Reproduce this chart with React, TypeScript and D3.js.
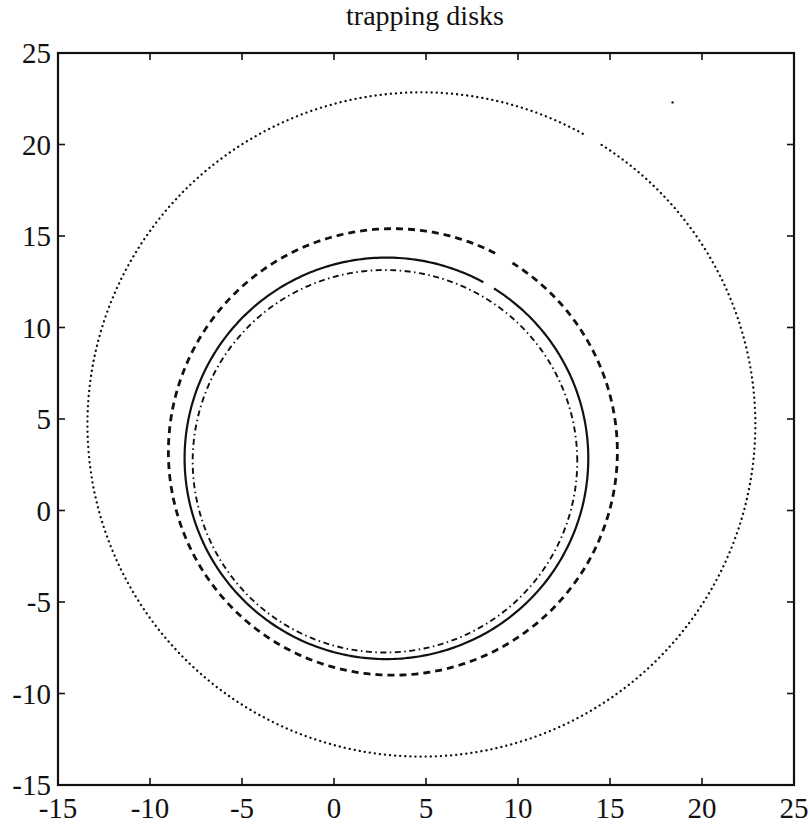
import React from "react";
import * as d3 from "d3";

const xTicks = [-15, -10, -5, 0, 5, 10, 15, 20, 25];
const yTicks = [-15, -10, -5, 0, 5, 10, 15, 20, 25];
const titleText = "trapping disks";

// curves (approximately circular trapping disk boundaries)
const curveNames = ["outer", "dashed", "solid", "dashdot"];
const centerX = [4.75, 3.2, 2.85, 2.77];
const centerY = [4.7, 3.2, 2.85, 2.69];
const radius = [18.15, 12.2, 10.97, 10.45];
const gapStartDeg = [57.6, 57.8, 57.8, null];
const gapEndDeg = [61.1, 62.9, 61.3, null];
const strayPoint = [18.4, 22.3];

const W = 810;
const H = 825;
const M = { left: 58, right: 794, top: 53, bottom: 785 };

const styles: Record<string, { w: number; dash: string; cap: string }> = {
  outer: { w: 2.3, dash: "0.1 5", cap: "round" },
  dashed: { w: 2.8, dash: "7 5", cap: "butt" },
  solid: { w: 2.2, dash: "", cap: "butt" },
  dashdot: { w: 1.9, dash: "6 3.5 1.5 3.5", cap: "butt" },
};

export default function App() {
  const x = d3.scaleLinear().domain([-15, 25]).range([M.left, M.right]);
  const y = d3.scaleLinear().domain([-15, 25]).range([M.bottom, M.top]);
  const line = d3
    .line<[number, number]>()
    .x((d) => x(d[0]))
    .y((d) => y(d[1]));

  const paths = curveNames.map((name, i) => {
    const gs = gapStartDeg[i];
    const ge = gapEndDeg[i];
    let a0: number, a1: number;
    if (gs === null || ge === null) {
      a0 = 0;
      a1 = 360;
    } else {
      a0 = ge;
      a1 = gs + 360;
    }
    const n = 400;
    const pts: [number, number][] = d3.range(n + 1).map((k) => {
      const a = ((a0 + ((a1 - a0) * k) / n) * Math.PI) / 180;
      return [centerX[i] + radius[i] * Math.cos(a), centerY[i] + radius[i] * Math.sin(a)];
    });
    const s = styles[name];
    return (
      <path
        key={name}
        d={line(pts) || ""}
        fill="none"
        stroke="#111"
        strokeWidth={s.w}
        strokeDasharray={s.dash || undefined}
        strokeLinecap={s.cap as any}
      />
    );
  });

  const tickLen = 7;
  const font = "'Liberation Serif', 'Times New Roman', serif";

  return (
    <svg width={W} height={H} style={{ position: "absolute", left: 0, top: 0, background: "#fff" }}>
      <rect x={0} y={0} width={W} height={H} fill="#fff" />
      <text x={425} y={25} textAnchor="middle" fontFamily={font} fontSize={28} fill="#111">
        {titleText}
      </text>
      {paths}
      <circle cx={x(strayPoint[0])} cy={y(strayPoint[1])} r={1.2} fill="#111" />
      <rect
        x={M.left}
        y={M.top}
        width={M.right - M.left}
        height={M.bottom - M.top}
        fill="none"
        stroke="#111"
        strokeWidth={2.2}
      />
      {xTicks.map((t) => (
        <g key={"x" + t}>
          <line x1={x(t)} x2={x(t)} y1={M.bottom} y2={M.bottom - tickLen} stroke="#111" strokeWidth={1.6} />
          <line x1={x(t)} x2={x(t)} y1={M.top} y2={M.top + tickLen} stroke="#111" strokeWidth={1.6} />
          <text x={x(t)} y={818} textAnchor="middle" fontFamily={font} fontSize={29} fill="#111">
            {t}
          </text>
        </g>
      ))}
      {yTicks.map((t) => (
        <g key={"y" + t}>
          <line x1={M.left} x2={M.left + tickLen} y1={y(t)} y2={y(t)} stroke="#111" strokeWidth={1.6} />
          <line x1={M.right} x2={M.right - tickLen} y1={y(t)} y2={y(t)} stroke="#111" strokeWidth={1.6} />
          <text x={51} y={y(t) + 10} textAnchor="end" fontFamily={font} fontSize={29} fill="#111">
            {t}
          </text>
        </g>
      ))}
    </svg>
  );
}
